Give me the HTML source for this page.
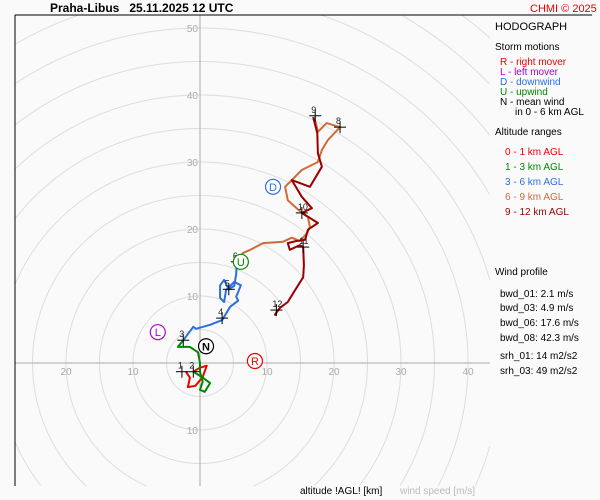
<!DOCTYPE html>
<html><head><meta charset="utf-8"><style>
html,body{margin:0;padding:0;width:600px;height:500px;overflow:hidden;background:#fafafa;font-family:"Liberation Sans",sans-serif;}
svg{display:block}
</style></head><body>
<svg width="600" height="500" xmlns="http://www.w3.org/2000/svg" font-family="Liberation Sans, sans-serif">
<rect width="600" height="500" fill="#fafafa"/>
<g id="grid"></g>
<g id="series"></g>
<g id="marks"></g>
<line x1="15" y1="15" x2="15" y2="486" stroke="#000" stroke-width="1"/>
<line x1="15" y1="15" x2="592" y2="15" stroke="#000" stroke-width="1"/>
<text x="50" y="12" font-size="12" font-weight="bold">Praha-Libus &#160;&#160;25.11.2025 12 UTC</text>
<text x="530" y="12" font-size="11" fill="#e00">CHMI © 2025</text>
<g font-size="10">
<text x="495" y="30" font-size="11">HODOGRAPH</text>
<text x="495" y="50">Storm motions</text>
<text x="500" y="65" fill="#e00">R - right mover</text>
<text x="500" y="75" fill="#a0c">L - left mover</text>
<text x="500" y="85" fill="#2a6ee0">D - downwind</text>
<text x="500" y="95" fill="#080">U - upwind</text>
<text x="500" y="105">N - mean wind</text>
<text x="515" y="115">in 0 - 6 km AGL</text>
<text x="495" y="135">Altitude ranges</text>
<text x="505" y="155" fill="#e00">0 - 1 km AGL</text>
<text x="505" y="170" fill="#080">1 - 3 km AGL</text>
<text x="505" y="185" fill="#2a6ee0">3 - 6 km AGL</text>
<text x="505" y="200" fill="#d06a38">6 - 9 km AGL</text>
<text x="505" y="215" fill="#900">9 - 12 km AGL</text>
<text x="495" y="275">Wind profile</text>
<text x="500" y="297">bwd_01: 2.1 m/s</text>
<text x="500" y="311">bwd_03: 4.9 m/s</text>
<text x="500" y="326">bwd_06: 17.6 m/s</text>
<text x="500" y="341">bwd_08: 42.3 m/s</text>
<text x="500" y="359">srh_01: 14 m2/s2</text>
<text x="500" y="374">srh_03: 49 m2/s2</text>
</g>
<text x="300" y="494" font-size="10">altitude !AGL! [km]</text>
<text x="400" y="494" font-size="10" fill="#bbb">wind speed [m/s]</text>
<script>
const ringSpeeds=[5,10,15,20,25,30,35,40,45,50,55,60,65];
const tickLabels=[10,20,30,40,50];
const seg01U=[-2.1,-1.5,-1.8,-0.7,0.4,1.0,0,-1.0];
const seg01V=[-1.3,-2.2,-3.6,-3.4,-2.1,-0.4,-0.7,-1.3];
const seg13U=[-1.0,0.3,1.5,0.7,0,0.4,0,0,-0.3,-1.5,-3.3,-2.5];
const seg13V=[-1.3,-2.1,-3.0,-4.3,-4.0,-2.8,-1.3,0,1.6,2.4,2.4,3.4];
const seg36U=[-2.5,-1.0,-0.6,1.5,3.3,4.5,5.7,5.4,6.1,5.1,3.9,3.6,3.0,3.0,3.6,4.3,5.1,5.4,5.5];
const seg36V=[3.4,5.4,5.1,5.7,6.4,8.4,9.3,9.9,11.6,12.1,10.9,9.1,9.7,11.6,12.4,11.0,11.5,13.3,15.1];
const seg69U=[5.5,6.4,7.5,9.4,12.4,13.7,14.9,16.0,16.4,16.1,15.2,13.1,12.7,13.7,15.2,17.6,18.2,19.1,20.9,18.9,17.6,17.3,16.9];
const seg69V=[15.1,16.4,16.9,17.9,18.1,18.7,18.2,19.4,20.3,21.8,22.4,24.3,26.3,27.3,28.8,30.0,31.8,33.3,35.2,35.8,34.5,35.8,36.7];
const seg912U=[16.9,17.5,17.6,18.2,16.4,13.7,15.2,16.7,15.2,17.6,16.1,15.7,14.3,13.1,13.4,14.9,15.4,15.5,15.4,13.9,13.1,11.9,11.2,11.6];
const seg912V=[36.7,34.3,31.3,29.3,26.3,27.3,24.8,23.1,22.4,20.9,19.9,18.4,18.2,17.9,16.9,17.6,17.3,14.6,12.8,10.4,9.1,8.2,7.2,7.9];
const markerLabels=["1","2","3","4","5","6","8","9","10","11","12"];
const markerU=[-2.7,-1.0,-2.5,3.3,4.3,5.5,20.9,17.2,15.2,15.4,11.4];
const markerV=[-1.3,-1.3,3.4,6.7,11.0,15.1,35.2,36.9,22.4,17.3,7.9];
const stormLabels=["R","L","D","U","N"];
const stormU=[8.2,-6.3,10.9,6.1,0.9];
const stormV=[0.3,4.6,26.3,15.1,2.5];
const stormColors=["#e00","#a0c","#2a6ee0","#080","#000"];

const CX=200,CY=363,S=6.7;
const X0=15,X1=490,Y0=15,Y1=486;
const sx=u=>CX+u*S, sy=v=>CY-v*S;
const NS="http://www.w3.org/2000/svg";
function mk(tag,attrs,parent){const e=document.createElementNS(NS,tag);for(const k in attrs)e.setAttribute(k,attrs[k]);parent.appendChild(e);return e;}
const grid=document.getElementById('grid'),series=document.getElementById('series'),marks=document.getElementById('marks');
ringSpeeds.forEach(r=>{
 const R=r*S;let d='',pen=false;
 for(let k=0;k<=1440;k++){const t=k/1440*2*Math.PI;const x=CX+R*Math.cos(t),y=CY+R*Math.sin(t);
  if(x>=X0&&x<=X1&&y>=Y0&&y<=Y1){d+=(pen?'L':'M')+x.toFixed(1)+' '+y.toFixed(1);pen=true;}else pen=false;}
 if(!d)return;
 const c=mk('path',{d:d,fill:'none',stroke:'#ddd','stroke-width':1},grid);
 
 });
let a=mk('line',{x1:X0,y1:CY,x2:X1,y2:CY,stroke:'#aaa'},grid);


a=mk('line',{x1:CX,y1:Y0,x2:CX,y2:Y1,stroke:'#aaa'},grid);


tickLabels.forEach(t=>{
 let e;
 if(sy(t)>=Y0){e=mk('text',{x:sx(0)-2,y:sy(t)+4,'text-anchor':'end','font-size':10,fill:'#aaa'},grid);e.textContent=t;
 
 }
 if(sy(-t)<=Y1-5){e=mk('text',{x:sx(0)-2,y:sy(-t)+4,'text-anchor':'end','font-size':10,fill:'#aaa'},grid);e.textContent=t;
 
 }
 if(sx(t)<=X1-10){e=mk('text',{x:sx(t),y:CY+12,'text-anchor':'middle','font-size':10,fill:'#aaa'},grid);e.textContent=t;
 
 }
 if(sx(-t)>=X0+10){e=mk('text',{x:sx(-t),y:CY+12,'text-anchor':'middle','font-size':10,fill:'#aaa'},grid);e.textContent=t;
 
 }
});
function seg(U,V,col,name){const p=U.map((u,i)=>sx(u).toFixed(1)+','+sy(V[i]).toFixed(1)).join(' ');
 const e=mk('polyline',{points:p,fill:'none',stroke:col,'stroke-width':2,'stroke-linejoin':'round'},series);
 
 }
seg(seg01U,seg01V,'#e00','segment-0-1km');
seg(seg13U,seg13V,'#080','segment-1-3km');
seg(seg36U,seg36V,'#2a6ee0','segment-3-6km');
seg(seg69U,seg69V,'#d06a38','segment-6-9km');
seg(seg912U,seg912V,'#900','segment-9-12km');
markerLabels.forEach((l,i)=>{const x=sx(markerU[i]),y=sy(markerV[i]);
 const g=mk('g',{},marks);
 
 
 mk('line',{x1:x-6,y1:y,x2:x+6,y2:y,stroke:'#000'},g);
 mk('line',{x1:x,y1:y-6,x2:x,y2:y+6,stroke:'#000'},g);
 const t=mk('text',{x:x-4,y:y-3,'font-size':9,fill:'#222'},g);t.textContent=l;});
stormLabels.forEach((l,i)=>{const x=sx(stormU[i]),y=sy(stormV[i]);
 const g=mk('g',{},marks);
 
 
 mk('circle',{cx:x,cy:y,r:7.5,fill:'#fff',stroke:stormColors[i],'stroke-width':1.2},g);
 const t=mk('text',{x:x,y:y+4,'text-anchor':'middle','font-size':11,'font-weight':l==='N'?'bold':'normal',fill:stormColors[i]},g);t.textContent=l;});
</script>
</svg>
</body></html>
